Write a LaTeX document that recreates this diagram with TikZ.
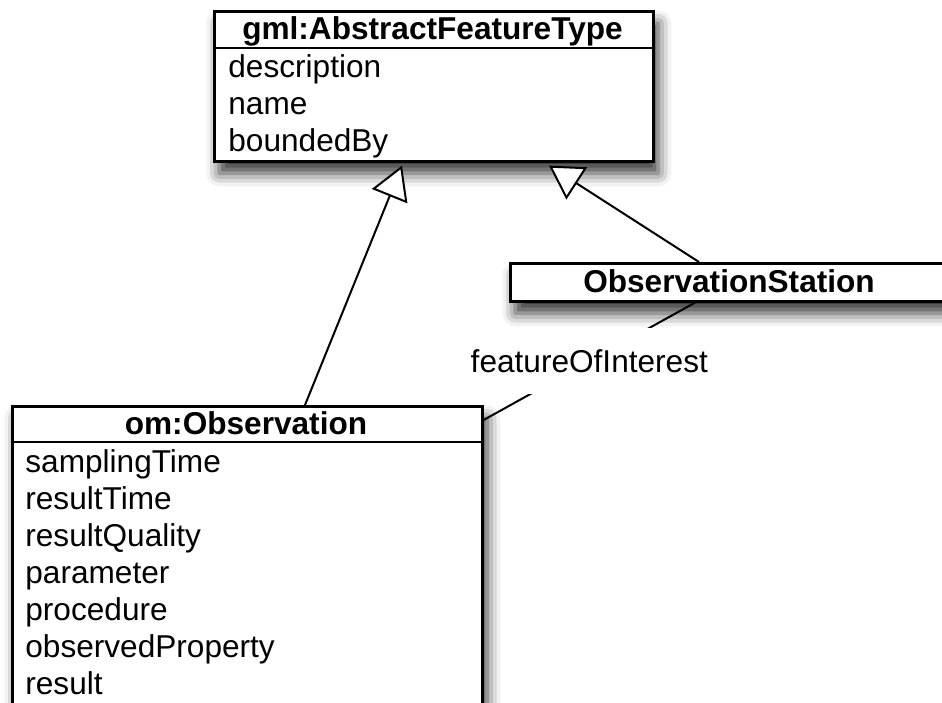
\documentclass[tikz,border=0pt]{standalone}
\usepackage{fontspec}
\setmainfont{Liberation Sans}
\usetikzlibrary{arrows.meta,shadows.blur,positioning}
\newcommand\umlsize{\fontsize{15.8}{18.5}\selectfont}
\tikzset{
    umlclass/.style={draw, line width=1.3pt, fill=white, anchor=north west, inner sep=0pt,
        blur shadow={shadow xshift=2.5pt, shadow yshift=-6pt, shadow blur radius=6.5pt, shadow opacity=80}},
    classname/.style={anchor=base, font=\umlsize\bfseries},
    attr/.style={anchor=base west, inner sep=0pt},
    inherit/.style={line width=1pt, -{Triangle[open, fill=white, length=16.5pt, width=19pt]}},
    assoc/.style={line width=1pt},
    rolename/.style={fill=white, minimum width=132pt, minimum height=33pt, inner sep=0pt}
}

\begin{document}
\begin{tikzpicture}[x=0.5pt, y=-0.5pt, font=\umlsize]
    % Init
    \useasboundingbox (0,0) rectangle (942,702);
    % 1. def classes
    \node[umlclass, minimum width=219.5pt, minimum height=75pt] (feature) at (213,10) {};
    \node[umlclass, minimum width=220pt, minimum height=19pt] (station) at (509,262) {};
    \node[umlclass, minimum width=235pt, minimum height=160pt] (obs) at (11,405) {};
    % 2. name compartments
    \draw[line width=1.3pt] ([yshift=-19pt]feature.north west) -- ([yshift=-19pt]feature.north east);
    \draw[line width=1.3pt] ([yshift=-18.5pt]obs.north west) -- ([yshift=-18.5pt]obs.north east);
    \node[classname] (feature-name) at (432.5,39) {gml:AbstractFeatureType};
    \node[classname] (station-name) at (729,292) {ObservationStation};
    \node[classname] (obs-name) at (246,434) {om:Observation};
    % 3. attributes
    \foreach \a [count=\i] in {description,name,boundedBy}
        \node[attr] (feature-a\i) at (228,40+37*\i) {\a};
    \foreach \a [count=\i] in {samplingTime,resultTime,resultQuality,parameter,procedure,observedProperty,result}
        \node[attr] (obs-a\i) at (25,435+37*\i) {\a};
    % 4. generalization
    \draw[inherit] ([xshift=147pt]obs.north west) -- ([xshift=94.5pt,yshift=-1.5pt]feature.south west);
    \draw[inherit] ([xshift=95pt]station.north west) -- ([xshift=168pt,yshift=-1.5pt]feature.south west);
    % 5. association
    \draw[assoc] ([xshift=93pt]station.south west) -- node[rolename] (foi) {featureOfInterest} ([yshift=-7.5pt]obs.north east);
\end{tikzpicture}
\end{document}
